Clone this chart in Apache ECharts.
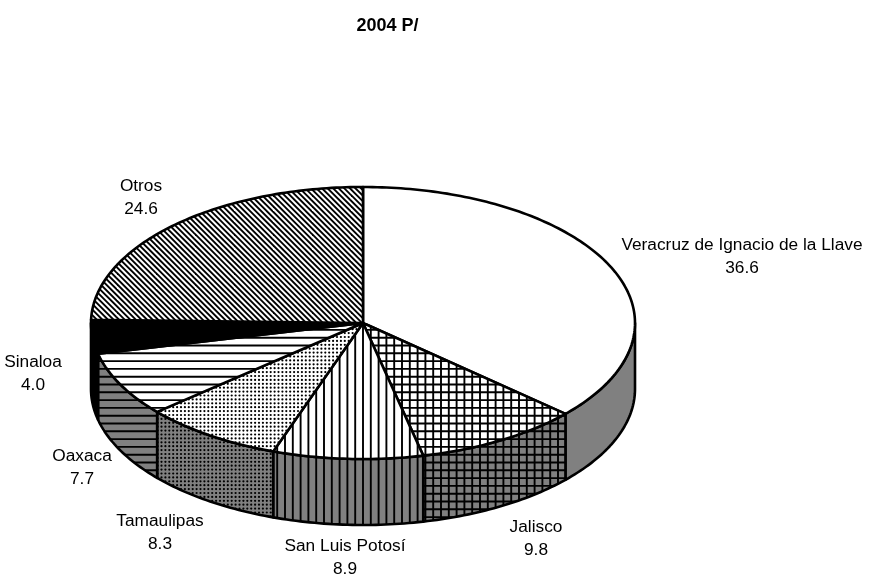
<!DOCTYPE html>
<html>
<head>
<meta charset="utf-8">
<style>html,body{margin:0;padding:0;background:#fff}#main{width:869px;height:580px}</style>
<script src="https://cdn.jsdelivr.net/npm/echarts@6/dist/echarts.min.js"></script>
</head>
<body>
<div id="main"></div>
<script>
var titleText = '2004 P/';
var names = ['Veracruz de Ignacio de la Llave', 'Jalisco', 'San Luis Potosí', 'Tamaulipas', 'Oaxaca', 'Sinaloa', 'Otros'];
var values = [36.6, 9.8, 8.9, 8.3, 7.7, 4.0, 24.6];

// 每个扇区的填充样式
var patterns = ['none', 'grid', 'vline', 'dots', 'hline', 'solid', 'diag'];
// 标签中心位置（像素）
var labelCenters = [[742, 257], [536, 539], [345, 558], [160, 533], [82, 468], [33, 374], [141, 198]];

// 饼的厚度，单位是椭圆的短半轴
var depth = 0.485;
var font = '17.3px "Liberation Sans", Arial, sans-serif';
// 图案周期 7.8px，画布取 5 个周期才能无缝平铺
var period = 7.8;
var cells = 5;
var diagStripes = 7;

function makePattern(kind, bg) {
    var size = Math.round(period * cells);
    var c = document.createElement('canvas');
    c.width = size;
    c.height = size;
    var g = c.getContext('2d');
    g.fillStyle = bg;
    g.fillRect(0, 0, size, size);
    g.strokeStyle = '#000';
    g.fillStyle = '#000';
    g.lineWidth = 1.9;
    var i, j;
    if (kind === 'vline' || kind === 'grid') {
        for (i = 0; i < cells; i++) {
            g.beginPath();
            g.moveTo(i * period + 4.2, 0);
            g.lineTo(i * period + 4.2, size);
            g.stroke();
        }
    }
    if (kind === 'hline' || kind === 'grid') {
        for (i = 0; i < cells; i++) {
            g.beginPath();
            g.moveTo(0, i * period + 2.3);
            g.lineTo(size, i * period + 2.3);
            g.stroke();
        }
    }
    if (kind === 'diag') {
        var step = size / diagStripes;
        for (i = -diagStripes - 1; i <= diagStripes + 1; i++) {
            g.beginPath();
            g.moveTo(i * step - 2, -2);
            g.lineTo(i * step + size + 2, size + 2);
            g.stroke();
        }
    }
    if (kind === 'dots') {
        for (i = 0; i < cells * 2; i++) {
            for (j = 0; j < cells * 2; j++) {
                g.beginPath();
                g.arc(i * period / 2 + 1.6, j * period / 2 + 1.6, 1.1, 0, Math.PI * 2);
                g.fill();
            }
        }
    }
    return { image: c, repeat: 'repeat' };
}

function fillFor(kind, bg) {
    if (kind === 'none') return bg;
    if (kind === 'solid') return '#000';
    return makePattern(kind, bg);
}

var total = values.reduce(function (a, b) { return a + b; }, 0);
var sum = 0;
var sliceData = values.map(function (v, i) {
    var start = sum / total * 360;
    sum += v;
    return [start, sum / total * 360, i];
});

var topFills = patterns.map(function (p) { return fillFor(p, '#fff'); });
var wallFills = patterns.map(function (p) { return fillFor(p, '#808080'); });

function pointAt(api, deg, drop) {
    var t = deg * Math.PI / 180;
    return api.coord([Math.sin(t), Math.cos(t) - drop]);
}

function renderSlice(params, api) {
    var start = api.value(0);
    var end = api.value(1);
    var idx = api.value(2);
    var children = [];
    var d;

    // 侧面只画朝前的部分（90° 到 270°）
    var a = Math.max(start, 90);
    var b = Math.min(end, 270);
    if (b > a) {
        var wall = [];
        for (d = a; d < b; d += 1) wall.push(pointAt(api, d, 0));
        wall.push(pointAt(api, b, 0));
        for (d = b; d > a; d -= 1) wall.push(pointAt(api, d, depth));
        wall.push(pointAt(api, a, depth));
        children.push({
            type: 'polygon',
            shape: { points: wall },
            style: { fill: wallFills[idx], stroke: '#000', lineWidth: 2.6, lineJoin: 'round' }
        });
    }

    var face = [api.coord([0, 0])];
    for (d = start; d < end; d += 1) face.push(pointAt(api, d, 0));
    face.push(pointAt(api, end, 0));
    children.push({
        type: 'polygon',
        shape: { points: face },
        style: { fill: topFills[idx], stroke: '#000', lineWidth: 2.6, lineJoin: 'round' }
    });

    children.push({
        type: 'text',
        style: {
            text: names[idx] + '\n' + values[idx].toFixed(1),
            x: labelCenters[idx][0],
            y: labelCenters[idx][1],
            align: 'center',
            verticalAlign: 'middle',
            lineHeight: 23,
            font: font,
            fill: '#000'
        }
    });
    return { type: 'group', children: children };
}

var chart = echarts.init(document.getElementById('main'), null, { renderer: 'canvas' });
var option = {
    animation: false,
    backgroundColor: '#fff',
    title: {
        text: titleText,
        left: 382.5,
        top: 12,
        textAlign: 'center',
        textStyle: { color: '#000', fontSize: 18, fontWeight: 'bold', fontFamily: '"Liberation Sans", Arial, sans-serif' }
    },
    grid: { left: 91, top: 187, width: 544, height: 338 },
    xAxis: { type: 'value', min: -1, max: 1, show: false },
    yAxis: { type: 'value', min: -1 - depth, max: 1, show: false },
    series: [{
        type: 'custom',
        clip: false,
        silent: true,
        data: sliceData,
        encode: { x: 0, y: 1 },
        renderItem: renderSlice
    }]
};
chart.setOption(option);
</script>
</body>
</html>
